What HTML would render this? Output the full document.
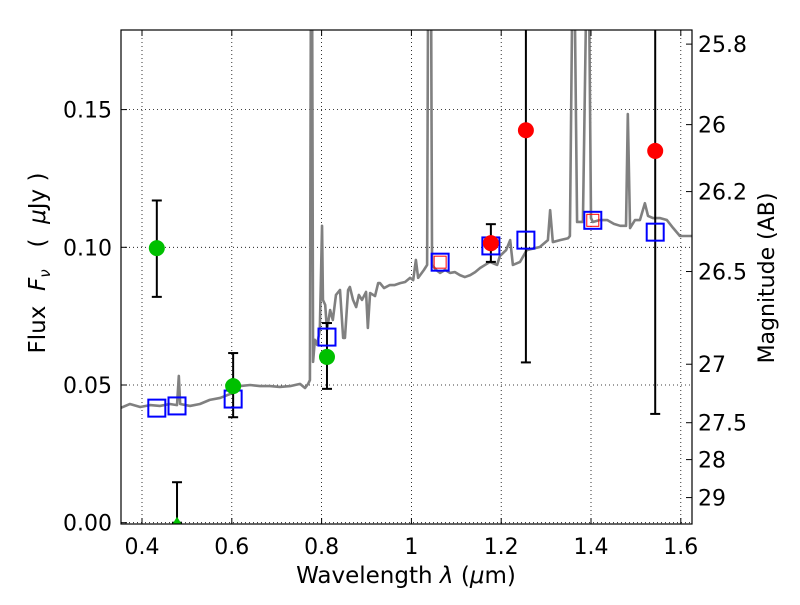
<!DOCTYPE html>
<html><head><meta charset="utf-8"><style>
body{margin:0;background:#fff}
svg text{font-family:"DejaVu Sans","Liberation Sans",sans-serif;fill:#000}
</style></head><body>
<svg id="chart" width="800" height="600" xmlns="http://www.w3.org/2000/svg">
<defs><clipPath id="clip"><rect x="121" y="30" width="571" height="494"/></clipPath></defs>
<rect width="800" height="600" fill="#fff"/>
<g id="grid"></g>
<g id="plot" clip-path="url(#clip)"></g>
<g id="axes"></g>
</svg>
<script>
const specW=[0.353,0.373,0.396,0.418,0.440,0.462,0.478,0.482,0.485,0.507,0.529,0.551,0.574,0.596,0.618,0.641,0.663,0.685,0.707,0.730,0.752,0.763,0.770,0.774,0.776,0.779,0.781,0.785,0.790,0.796,0.801,0.803,0.808,0.812,0.819,0.825,0.832,0.841,0.848,0.852,0.859,0.863,0.870,0.877,0.883,0.890,0.899,0.903,0.908,0.919,0.926,0.930,0.939,0.952,0.963,0.975,0.986,0.997,1.004,1.010,1.015,1.028,1.035,1.037,1.044,1.046,1.055,1.064,1.075,1.086,1.097,1.108,1.119,1.131,1.142,1.153,1.164,1.175,1.191,1.197,1.211,1.220,1.226,1.242,1.257,1.286,1.304,1.309,1.315,1.331,1.349,1.353,1.358,1.364,1.369,1.382,1.389,1.396,1.400,1.404,1.420,1.436,1.451,1.465,1.478,1.482,1.487,1.498,1.509,1.520,1.527,1.538,1.554,1.569,1.583,1.598,1.627];
const specF=[0.0417,0.0431,0.0420,0.0427,0.0424,0.0431,0.0427,0.0533,0.0431,0.0424,0.0431,0.0446,0.0453,0.0467,0.0496,0.0500,0.0496,0.0496,0.0493,0.0496,0.0504,0.0489,0.0504,0.0518,0.186,0.186,0.0584,0.0664,0.0646,0.0700,0.1078,0.0809,0.0791,0.0700,0.0772,0.0736,0.0827,0.0845,0.0671,0.0671,0.0845,0.0856,0.0809,0.0783,0.0827,0.0809,0.0838,0.0707,0.0834,0.0823,0.0870,0.0870,0.0852,0.0863,0.0863,0.0870,0.0874,0.0889,0.0881,0.0954,0.0889,0.0918,0.0936,0.186,0.186,0.0936,0.0918,0.0907,0.0918,0.0907,0.0910,0.0899,0.0892,0.0899,0.0910,0.0925,0.0936,0.0947,0.0936,0.0968,0.0990,0.1026,0.0936,0.0947,0.0990,0.1001,0.1026,0.1135,0.1019,0.1026,0.1033,0.1041,0.186,0.186,0.1092,0.1092,0.186,0.186,0.1106,0.1092,0.1099,0.1099,0.1085,0.1078,0.1078,0.1484,0.1070,0.1099,0.1099,0.1160,0.1114,0.1106,0.1106,0.1099,0.1070,0.1041,0.1041];
const greenW=[0.433,0.603,0.812];
const greenF=[0.0997,0.0496,0.0602];
const greenHi=[0.117,0.0616,0.0725];
const greenLo=[0.082,0.0383,0.0486];
const limW=[0.478];const limF=[0.0];const limHi=[0.0147];
const redW=[1.177,1.255,1.543];
const redF=[0.1015,0.1425,0.135];
const redHi=[0.1084,0.25,0.25];
const redLo=[0.0947,0.0582,0.0395];
const modelW=[0.433,0.478,0.603,0.812,1.064,1.177,1.255,1.404,1.543];
const modelF=[0.0416,0.0424,0.0449,0.0674,0.0946,0.1005,0.1026,0.1098,0.1055];
const innerW=[1.064,1.404];
const innerF=[0.0946,0.1098];
const xTicks=[0.4,0.6,0.8,1.0,1.2,1.4,1.6];
const xTickLabels=["0.4","0.6","0.8","1","1.2","1.4","1.6"];
const yTicks=[0.00,0.05,0.10,0.15];
const yTickLabels=["0.00","0.05","0.10","0.15"];
const magTicks=[25.8,26,26.2,26.5,27,27.5,28,29];
const magTickLabels=["25.8","26","26.2","26.5","27","27.5","28","29"];

const L=121,R=692,T=30,B=524;
const xs=w=>142+(w-0.4)*449;
const ys=f=>522.7-f*2754;
const NS="http://www.w3.org/2000/svg";
function mk(parent,tag,attrs){const e=document.createElementNS(NS,tag);for(const k in attrs)e.setAttribute(k,attrs[k]);parent.appendChild(e);return e;}
const grid=document.getElementById('grid'),plot=document.getElementById('plot'),axes=document.getElementById('axes');

xTicks.forEach((v,i)=>{
  const x=xs(v);
  const g=mk(grid,'line',{x1:x,x2:x,y1:T,y2:B,stroke:'#000','stroke-width':0.8,'stroke-dasharray':'1,3'});
  
  
  mk(axes,'line',{x1:x,x2:x,y1:B,y2:B-6,stroke:'#000','stroke-width':1});
  mk(axes,'line',{x1:x,x2:x,y1:T,y2:T+6,stroke:'#000','stroke-width':1});
  const t=mk(axes,'text',{x:x,y:554,'font-size':22,'text-anchor':'middle'});t.textContent=xTickLabels[i];
  
  
});
yTicks.forEach((v,i)=>{
  const y=ys(v);
  const g=mk(grid,'line',{x1:L,x2:R,y1:y,y2:y,stroke:'#000','stroke-width':0.8,'stroke-dasharray':'1,3'});
  
  
  mk(axes,'line',{x1:L,x2:L+6,y1:y,y2:y,stroke:'#000','stroke-width':1});
  const t=mk(axes,'text',{x:112,y:y+8,'font-size':22,'text-anchor':'end'});t.textContent=yTickLabels[i];
  
  
});
magTicks.forEach((m,i)=>{
  const f=Math.pow(10,-(m-23.9)/2.5);const y=ys(f);
  mk(axes,'line',{x1:R,x2:R-6,y1:y,y2:y,stroke:'#000','stroke-width':1});
  const t=mk(axes,'text',{x:698,y:y+8,'font-size':22});t.textContent=magTickLabels[i];
  
  
});

const sp=mk(plot,'polyline',{points:specW.map((w,i)=>xs(w)+','+ys(specF[i])).join(' '),fill:'none',stroke:'#808080','stroke-width':2.6,'stroke-linejoin':'round'});



function errbar(w,lo,hi,name){
  const x=xs(w);
  const g=mk(plot,'g',{stroke:'#000','stroke-width':2});
  
  
  mk(g,'line',{x1:x,x2:x,y1:ys(hi),y2:ys(lo)});
  mk(g,'line',{x1:x-5,x2:x+5,y1:ys(hi),y2:ys(hi)});
  mk(g,'line',{x1:x-5,x2:x+5,y1:ys(lo),y2:ys(lo)});
}
greenW.forEach((w,i)=>errbar(w,greenLo[i],greenHi[i],'green-errorbar'));
limW.forEach((w,i)=>errbar(w,limF[i],limHi[i],'limit-errorbar'));
redW.forEach((w,i)=>errbar(w,redLo[i],redHi[i],'red-errorbar'));
limW.forEach((w,i)=>{
  const x=xs(w),y=ys(limF[i]);
  const p=mk(plot,'polygon',{points:`${x-5},${y+2} ${x+5},${y+2} ${x},${y-6}`,fill:'#00c000'});
  
  
});
modelW.forEach((w,i)=>{
  const r=mk(plot,'rect',{x:xs(w)-8.5,y:ys(modelF[i])-8.5,width:17,height:17,fill:'none',stroke:'#0000ff','stroke-width':2});
  
  
});
innerW.forEach((w,i)=>{
  const r=mk(plot,'rect',{x:xs(w)-6,y:ys(innerF[i])-6,width:12,height:12,fill:'none',stroke:'#ff0000','stroke-width':1});
  
  
});
greenW.forEach((w,i)=>{
  const c=mk(plot,'circle',{cx:xs(w),cy:ys(greenF[i]),r:8,fill:'#00c000'});
  
  
});
redW.forEach((w,i)=>{
  const c=mk(plot,'circle',{cx:xs(w),cy:ys(redF[i]),r:8,fill:'#ff0000'});
  
  
});

const fr=mk(axes,'rect',{x:L,y:T,width:R-L,height:B-T,fill:'none',stroke:'#000','stroke-width':1.2});


</script>
<svg style="position:absolute;left:0;top:0" width="800" height="600" xmlns="http://www.w3.org/2000/svg">
<text x="406" y="583" font-size="23" text-anchor="middle" style="font-family:'DejaVu Sans',sans-serif">Wavelength  <tspan font-style="italic">λ</tspan> (<tspan font-style="italic">μ</tspan>m)</text>
<text transform="translate(45,263) rotate(-90)" font-size="23" text-anchor="middle" style="font-family:'DejaVu Sans',sans-serif" xml:space="preserve">Flux  <tspan font-style="italic">F</tspan><tspan font-style="italic" font-size="15" dy="5">ν</tspan><tspan dy="-5">   (  </tspan><tspan font-style="italic">μ</tspan>Jy )</text>
<text transform="translate(774,278) rotate(-90)" font-size="22" text-anchor="middle" style="font-family:'DejaVu Sans',sans-serif">Magnitude (AB)</text>
</svg>
</body></html>
